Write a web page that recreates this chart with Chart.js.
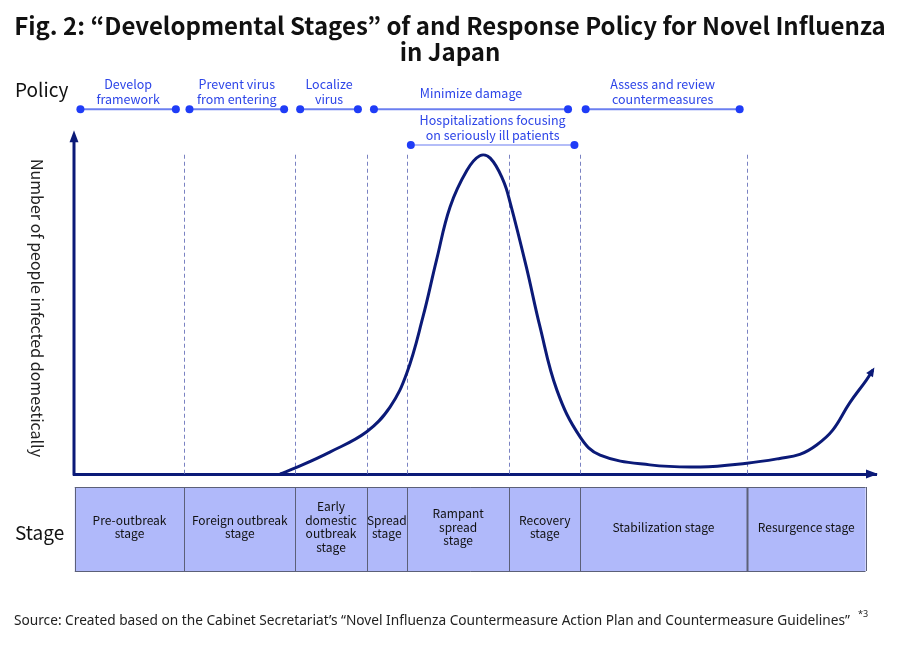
<!DOCTYPE html>
<html>
<head>
<meta charset="utf-8">
<script src="https://cdn.jsdelivr.net/npm/chart.js@4.4.1/dist/chart.umd.min.js"></script>
<style>
  html, body { margin: 0; padding: 0; background: #fff; }
  canvas { display: block; }
</style>
</head>
<body>
<canvas id="chart" width="900" height="650"></canvas>
<script>
// curve of domestic infections (x: time in 0-100, y: relative count 0-100)
const curveX = [25.7, 27.6, 31.9, 36.5, 39.4, 41.5, 43.5, 45.2, 46.9, 49.0, 50.6, 51.9, 53.5, 54.4, 56.4, 58.1, 60.2, 63.1, 65.6, 71.8, 78.1, 83.9, 88.0, 90.5, 92.6, 94.6, 96.7, 98.8, 99.6];
const curveY = [0, 1.8, 6.5, 12.5, 19.8, 29.9, 46.4, 63.3, 79.1, 89.9, 94.2, 93.5, 87.0, 80.2, 61.3, 43.6, 24.9, 11.0, 5.6, 2.7, 2.1, 3.2, 4.6, 5.8, 8.6, 13.0, 21.0, 27.8, 30.8];

// developmental stages
const stageNames = [
  ["Pre-outbreak", "stage"],
  ["Foreign outbreak", "stage"],
  ["Early", "domestic", "outbreak", "stage"],
  ["Spread", "stage"],
  ["Rampant", "spread", "stage"],
  ["Recovery", "stage"],
  ["Stabilization stage"],
  ["Resurgence stage"]
];
const stageEdges = [0.1, 13.75, 27.6, 36.5, 41.5, 54.3, 63.1, 83.9, 98.7];

// response policies
const policyNames = [
  ["Develop", "framework"],
  ["Prevent virus", "from entering"],
  ["Localize", "virus"],
  ["Minimize damage"],
  ["Assess and review", "countermeasures"],
  ["Hospitalizations focusing", "on seriously ill patients"]
];
const policyStart = [0.8, 14.4, 28.2, 37.4, 63.8, 42.0];
const policyEnd = [12.7, 26.2, 35.4, 61.6, 83.0, 62.4];
const policyRow = [108, 108, 108, 108, 108, 97.4];

const navy = "#0b1a78";
const jpFont = "'Noto Sans CJK JP', 'Noto Sans', sans-serif";

const policySets = policyNames.map((name, i) => ({
  label: name.join(" "),
  data: [{ x: policyStart[i], y: policyRow[i] }, { x: policyEnd[i], y: policyRow[i] }],
  borderColor: i === 5 ? "#b4bdf8" : "#6b7ff0",
  borderWidth: 2,
  pointRadius: 4,
  pointBackgroundColor: "#1f3cf7",
  pointBorderWidth: 0,
  clip: false
}));

const diagramPlugin = {
  id: "diagram",
  beforeDatasetsDraw(chart) {
    const { ctx, chartArea, scales } = chart;
    const x = scales.x, y = scales.y;
    ctx.save();
    ctx.strokeStyle = "#7a82c2";
    ctx.lineWidth = 1;
    ctx.setLineDash([4, 3]);
    stageEdges.slice(1, -1).forEach((e) => {
      const px = Math.round(x.getPixelForValue(e)) + 0.5;
      ctx.beginPath();
      ctx.moveTo(px, y.getPixelForValue(94.5));
      ctx.lineTo(px, chartArea.bottom);
      ctx.stroke();
    });
    ctx.restore();
  },
  afterDraw(chart) {
    const { ctx, chartArea, scales } = chart;
    const x = scales.x, y = scales.y;
    ctx.save();

    // y axis with arrowheads
    const axTop = y.getPixelForValue(100);
    ctx.strokeStyle = navy;
    ctx.lineWidth = 3;
    ctx.beginPath();
    ctx.moveTo(chartArea.left, chartArea.bottom + 1.5);
    ctx.lineTo(chartArea.left, axTop + 4);
    ctx.stroke();
    ctx.fillStyle = navy;
    ctx.beginPath();
    ctx.moveTo(chartArea.left, axTop - 6);
    ctx.lineTo(chartArea.left - 4.5, axTop + 6);
    ctx.lineTo(chartArea.left + 4.5, axTop + 6);
    ctx.fill();
    ctx.beginPath();
    ctx.moveTo(chartArea.right + 2, chartArea.bottom);
    ctx.lineTo(chartArea.right - 10, chartArea.bottom - 4.5);
    ctx.lineTo(chartArea.right - 10, chartArea.bottom + 4.5);
    ctx.fill();

    // arrowhead at end of curve
    const n = curveX.length;
    const ex = x.getPixelForValue(curveX[n - 1]), ey = y.getPixelForValue(curveY[n - 1]);
    const sx = x.getPixelForValue(curveX[n - 2]), sy = y.getPixelForValue(curveY[n - 2]);
    const ang = Math.atan2(ey - sy, ex - sx);
    ctx.translate(ex, ey);
    ctx.rotate(ang);
    ctx.beginPath();
    ctx.moveTo(3, 0);
    ctx.lineTo(-6, -4);
    ctx.lineTo(-6, 4);
    ctx.fill();
    ctx.setTransform(1, 0, 0, 1, 0, 0);

    // title
    ctx.fillStyle = "#111";
    ctx.textAlign = "center";
    ctx.textBaseline = "middle";
    ctx.font = "bold 24px " + jpFont;
    ctx.fillText("Fig. 2: \u201cDevelopmental Stages\u201d of and Response Policy for Novel Influenza", 450, 26, 878);
    ctx.fillText("in Japan", 450, 52);

    // row headings
    ctx.textAlign = "left";
    ctx.font = "19px " + jpFont;
    ctx.fillText("Policy", 15, 90);
    ctx.fillText("Stage", 15, 533);

    // y axis title, reading top to bottom
    ctx.save();
    ctx.translate(37, 308);
    ctx.rotate(Math.PI / 2);
    ctx.textAlign = "center";
    ctx.font = "16px " + jpFont;
    ctx.fillStyle = "#222";
    ctx.fillText("Number of people infected domestically", 0, 0);
    ctx.restore();

    // policy labels
    ctx.textAlign = "center";
    ctx.fillStyle = "#2d45e8";
    ctx.font = "12.5px " + jpFont;
    policyNames.forEach((lines, i) => {
      const cx = (x.getPixelForValue(policyStart[i]) + x.getPixelForValue(policyEnd[i])) / 2;
      const rowPx = y.getPixelForValue(policyRow[i]);
      const lift = lines.length === 1 ? 16 : 10;
      lines.forEach((t, j) => {
        ctx.fillText(t, cx, rowPx - lift - (lines.length - 1 - j) * 14.5);
      });
    });

    // stage boxes
    const top = 487, bottom = 571;
    ctx.fillStyle = "#b0b9fa";
    const left = x.getPixelForValue(stageEdges[0]);
    const right = x.getPixelForValue(stageEdges[stageEdges.length - 1]);
    ctx.fillRect(left, top, right - left, bottom - top);
    ctx.strokeStyle = "#5c6078";
    stageEdges.forEach((e, i) => {
      const px = Math.round(x.getPixelForValue(e)) + 0.5;
      ctx.lineWidth = i === 7 ? 2 : 1;
      ctx.beginPath();
      ctx.moveTo(px, top);
      ctx.lineTo(px, bottom);
      ctx.stroke();
    });
    ctx.lineWidth = 1;
    ctx.beginPath();
    ctx.moveTo(left, top + 0.5);
    ctx.lineTo(right, top + 0.5);
    ctx.moveTo(left, bottom + 0.5);
    ctx.lineTo(right, bottom + 0.5);
    ctx.stroke();

    ctx.fillStyle = "#111";
    ctx.font = "12px " + jpFont;
    stageNames.forEach((lines, i) => {
      const cx = (x.getPixelForValue(stageEdges[i]) + x.getPixelForValue(stageEdges[i + 1])) / 2;
      const cy = (top + bottom) / 2 - 2;
      lines.forEach((t, j) => {
        ctx.fillText(t, cx, cy + (j - (lines.length - 1) / 2) * 13.5);
      });
    });

    // source
    ctx.textAlign = "left";
    ctx.fillStyle = "#222";
    ctx.font = "14px 'Noto Sans', sans-serif";
    ctx.fillText("Source: Created based on the Cabinet Secretariat\u2019s \u201cNovel Influenza Countermeasure Action Plan and Countermeasure Guidelines\u201d", 14, 621, 836);
    ctx.font = "9px 'Noto Sans', sans-serif";
    ctx.fillText("*3", 858, 614);
    ctx.restore();
  }
};

new Chart(document.getElementById("chart"), {
  type: "line",
  data: {
    datasets: [{
      label: "Number of people infected domestically",
      data: curveX.map((v, i) => ({ x: v, y: curveY[i] })),
      borderColor: navy,
      borderWidth: 3,
      pointRadius: 0,
      tension: 0.4,
      clip: false
    }, ...policySets]
  },
  options: {
    responsive: false,
    animation: false,
    layout: { padding: { left: 74, right: 24, top: 99, bottom: 176 } },
    plugins: { legend: { display: false }, tooltip: { enabled: false } },
    scales: {
      x: {
        type: "linear", min: 0, max: 100,
        ticks: { display: false },
        grid: { display: false, drawTicks: false },
        border: { color: navy, width: 3 },
        afterFit(scale) { scale.height = 0; }
      },
      y: {
        type: "linear", min: 0, max: 111,
        ticks: { display: false },
        grid: { display: false, drawTicks: false },
        border: { display: false },
        afterFit(scale) { scale.width = 0; }
      }
    }
  },
  plugins: [diagramPlugin]
});
</script>
</body>
</html>
